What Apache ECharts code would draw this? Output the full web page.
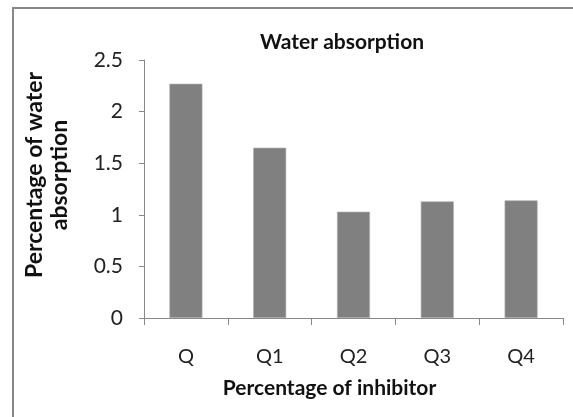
<!DOCTYPE html>
<html>
<head>
<meta charset="utf-8">
<script src="https://cdn.jsdelivr.net/npm/echarts@6/dist/echarts.min.js"></script>
<style>
  html, body { margin: 0; padding: 0; background: #fff; }
  #main { width: 573px; height: 417px; }
</style>
</head>
<body>
<div id="main"></div>
<script>
// categories and values
var categories = ['Q', 'Q1', 'Q2', 'Q3', 'Q4'];
var absorption = [2.27, 1.65, 1.03, 1.13, 1.14];
var yTicks = [0, 0.5, 1, 1.5, 2, 2.5];

var FONT = 'Lato';

var myChart = echarts.init(document.getElementById('main'), null, { renderer: 'canvas' });

var option = {
  backgroundColor: '#fff',
  animation: false,
  title: {
    text: 'Water absorption',
    left: 337,
    top: 27,
    textAlign: 'center',
    textStyle: { fontFamily: FONT, fontSize: 21, fontWeight: 'bold', color: '#111' }
  },
  grid: { left: 144, right: 10, top: 60, bottom: 99 },
  xAxis: {
    type: 'category',
    data: categories,
    axisLine: { lineStyle: { color: '#888', width: 1 } },
    axisTick: { show: true, length: 7, inside: false, lineStyle: { color: '#888' } },
    axisLabel: { fontFamily: FONT, fontSize: 20, color: '#222', margin: 29 },
    name: 'Percentage of inhibitor',
    nameLocation: 'middle',
    nameGap: 60,
    // pad on the right so the name sits a little left of the axis middle
    nameTextStyle: { fontFamily: FONT, fontSize: 21, fontWeight: 'bold', color: '#111', padding: [0, 48, 0, 0] }
  },
  yAxis: {
    type: 'value',
    min: yTicks[0],
    max: yTicks[yTicks.length - 1],
    interval: 0.5,
    axisLine: { show: true, lineStyle: { color: '#888', width: 1 } },
    axisTick: { show: true, length: 5, lineStyle: { color: '#888' } },
    splitLine: { show: false },
    axisLabel: { fontFamily: FONT, fontSize: 21, color: '#222', margin: 21 }
  },
  graphic: [
    {
      // outer frame, only the top and left edges show
      type: 'rect',
      shape: { x: 13, y: 8, width: 620, height: 460 },
      style: { fill: 'none', stroke: '#888', lineWidth: 2 },
      silent: true
    },
    {
      type: 'text',
      x: 47,
      y: 175,
      rotation: Math.PI / 2,
      style: {
        text: 'Percentage of water\nabsorption',
        fontFamily: FONT,
        fontSize: 23,
        fontWeight: 'bold',
        fill: '#111',
        align: 'center',
        verticalAlign: 'middle',
        lineHeight: 25
      }
    }
  ],
  series: [
    {
      name: 'Water absorption',
      type: 'bar',
      data: absorption,
      barWidth: 33,
      itemStyle: { color: '#808080', borderColor: '#b0b0b0', borderWidth: 0.6 }
    }
  ]
};

myChart.setOption(option);
</script>
</body>
</html>
